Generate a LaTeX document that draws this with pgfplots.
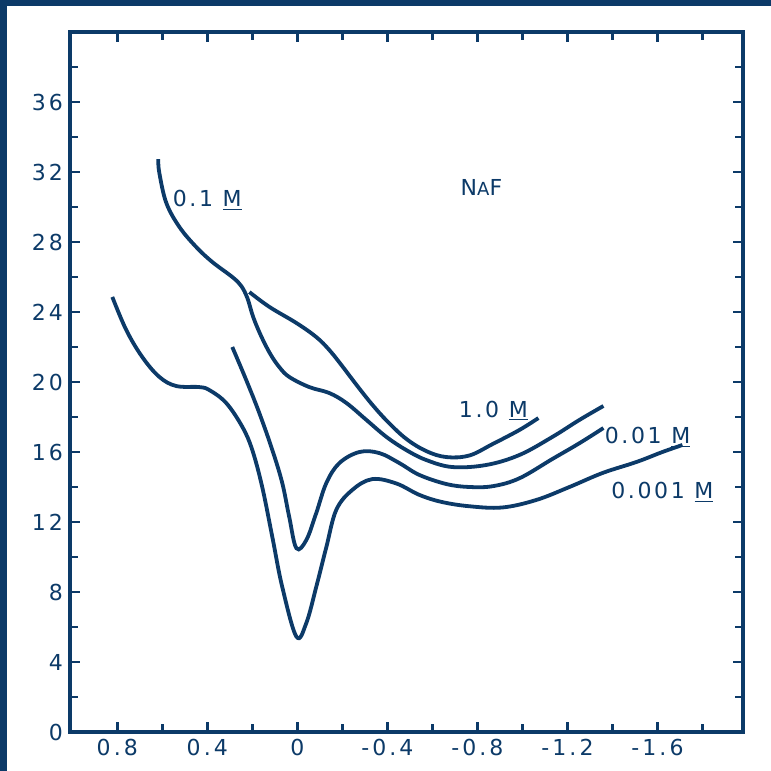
\documentclass[border=0pt]{standalone}
\usepackage{pgfplots}
\pgfplotsset{compat=1.18}
\usepackage{fontspec}
\setmainfont{DejaVu Sans}
\newfontfamily\tickfont{DejaVu Sans}[LetterSpace=14]
\newfontfamily\labfont{DejaVu Sans}[LetterSpace=12]
\definecolor{navy}{RGB}{12,58,104}
\tikzset{curve/.style={navy, line width=1.9pt, smooth, tension=0.6, mark=none}}
\begin{document}
\begin{tikzpicture}
\useasboundingbox (0,0) rectangle (385.5pt,385.5pt);
\fill[white] (0,0) rectangle (385.5pt,385.5pt);
\begin{axis}[
  at={(35pt,19.5pt)}, anchor=south west,
  scale only axis, width=336.5pt, height=350pt,
  x dir=reverse, xmin=-1.98, xmax=1.01, ymin=0, ymax=40,
  xtick={0.8,0.4,0,-0.4,-0.8,-1.2,-1.6},
  xticklabels={0.8,0.4,0,-0.4,-0.8,-1.2,-1.6},
  minor xtick={0.6,0.2,-0.2,-0.6,-1.0,-1.4,-1.8},
  ytick={0,4,8,12,16,20,24,28,32,36},
  yticklabels={0,4,8,12,16,20,24,28,32,36},
  minor ytick={2,6,10,14,18,22,26,30,34,38},
  tick align=inside, major tick length=5pt, minor tick length=4pt,
  axis line style={navy, line width=1.9pt},
  tick style={navy, line width=1.4pt},
  tick label style={text=navy, font=\tickfont\fontsize{11}{13}\selectfont},
]
% 0.1 M
\addplot[curve] coordinates {
(0.618,32.74) (0.613,31.94) (0.582,30.23) (0.524,28.86) (0.449,27.71)
(0.378,26.86) (0.289,26.0) (0.250,25.5) (0.222,24.8) (0.196,23.71) (0.16,22.6)
(0.12,21.6) (0.080,20.85) (0.036,20.29) (-0.053,19.71) (-0.142,19.37) (-0.218,18.8) (-0.307,17.83)
(-0.396,16.86) (-0.484,16.11) (-0.573,15.54) (-0.689,15.14) (-0.84,15.26)
(-0.987,15.83) (-1.133,16.86) (-1.253,17.83) (-1.36,18.63)};
% 1.0 M
\addplot[curve] coordinates {
(0.213,25.14) (0.124,24.29) (0.004,23.37) (-0.084,22.57) (-0.142,21.83)
(-0.2,20.9) (-0.262,19.85) (-0.33,18.75) (-0.40,17.75) (-0.484,16.75)
(-0.573,16.05) (-0.662,15.71) (-0.764,15.8) (-0.867,16.45) (-0.987,17.26) (-1.071,17.94)};
% 0.01 M
\addplot[curve] coordinates {
(0.289,22.0) (0.227,20.11) (0.169,18.23) (0.111,16.11) (0.067,14.23)
(0.036,12.29) (0.004,10.5) (-0.04,10.97) (-0.084,12.51) (-0.129,14.23)
(-0.187,15.37) (-0.276,16.0) (-0.364,15.94) (-0.453,15.37) (-0.542,14.69)
(-0.662,14.17) (-0.764,14.0) (-0.87,14.05) (-0.987,14.5) (-1.133,15.6)
(-1.253,16.5) (-1.36,17.37)};
% 0.001 M
\addplot[curve] coordinates {
(0.822,24.86) (0.76,22.97) (0.689,21.43) (0.613,20.29) (0.538,19.77)
(0.436,19.71) (0.391,19.54) (0.316,18.8) (0.244,17.43) (0.2,16.11)
(0.156,14.0) (0.111,11.14) (0.067,8.29) (0.004,5.45) (-0.04,6.23)
(-0.084,8.29) (-0.129,10.57) (-0.173,12.69) (-0.244,13.83) (-0.333,14.45)
(-0.44,14.2) (-0.542,13.55) (-0.64,13.15) (-0.764,12.9) (-0.911,12.83) (-1.062,13.26)
(-1.209,14.0) (-1.356,14.8) (-1.507,15.43) (-1.622,16.0) (-1.711,16.4)};
\node[text=navy, font=\labfont\fontsize{11}{13}\selectfont] at (axis cs:0.4,30.4) {0.1 \underline{M}};
\node[text=navy, font=\labfont\fontsize{11}{13}\selectfont] at (axis cs:-0.818,31.1) {N{\small A}F};
\node[text=navy, font=\labfont\fontsize{11}{13}\selectfont] at (axis cs:-0.871,18.35) {1.0 \underline{M}};
\node[text=navy, font=\labfont\fontsize{11}{13}\selectfont] at (axis cs:-1.556,16.85) {0.01 \underline{M}};
\node[text=navy, font=\labfont\fontsize{11}{13}\selectfont] at (axis cs:-1.622,13.7) {0.001 \underline{M}};
\end{axis}
\fill[navy] (0,0) rectangle (3.5pt,385.5pt);
\fill[navy] (0,382.5pt) rectangle (385.5pt,385.5pt);
\end{tikzpicture}
\end{document}
